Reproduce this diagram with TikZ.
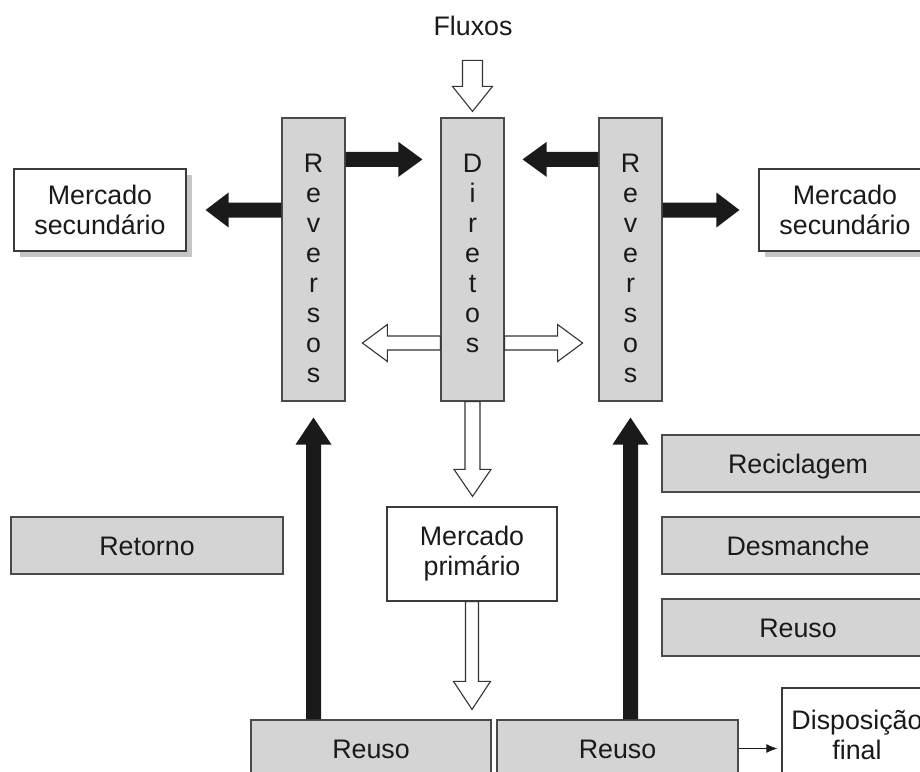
\documentclass[tikz,border=0pt]{standalone}
\usepackage{fontspec}
\setmainfont{Liberation Sans}
\usetikzlibrary{calc,arrows.meta,shadows}
\definecolor{boxgray}{HTML}{D4D4D4}
\definecolor{edge}{HTML}{4A4A4A}
\definecolor{ink}{HTML}{1A1A1A}
\definecolor{shadowgray}{HTML}{C6C6C6}
\newcommand{\blockarr}[6]{%
  \coordinate (ba-a) at (#2);
  \coordinate (ba-b) at (#3);
  \coordinate (ba-h) at ($(ba-b)!#6!(ba-a)$);
  \path[#1] ($(ba-a)!#4!90:(ba-b)$) -- ($(ba-h)!#4!90:(ba-b)$) -- ($(ba-h)!#5!90:(ba-b)$) -- (ba-b)
    -- ($(ba-h)!#5!-90:(ba-b)$) -- ($(ba-h)!#4!-90:(ba-b)$) -- ($(ba-a)!#4!-90:(ba-b)$) -- cycle;
}
\begin{document}
\begin{tikzpicture}[x=1pt,y=-1pt,
  every node/.style={font=\fontsize{26.8}{30}\selectfont, text=ink},
  graybox/.style={draw=edge, line width=1.2pt, fill=boxgray, inner sep=0pt, text height=19.2pt, text depth=0pt},
  whitebox/.style={draw=edge!80!black, line width=1.2pt, fill=white, inner sep=0pt, align=center},
  shadowed/.style={drop shadow={shadow xshift=6pt, shadow yshift=-6pt, fill=shadowgray, opacity=1}},
  column/.style={draw=edge, line width=1.2pt, fill=boxgray, minimum width=63pt, minimum height=283pt, inner sep=0pt},
  letters/.style={anchor=north, inner sep=0pt, align=center},
  blackarr/.style={fill=ink},
  whitearr/.style={draw=edge!70!black, fill=white, line width=1.1pt, line join=miter},
  thinarr/.style={draw=ink, line width=1pt, -{Latex[length=11pt,width=9pt]}}
  ]
\useasboundingbox (0,0) rectangle (920,771);
\clip (0,0) rectangle (920,771);

% title
\node[inner sep=0pt, text height=19.2pt, text depth=0pt] (fluxos) at (473,26) {Fluxos};

% columns
\node[column] (revL) at (313.5,259.5) {};
\node[column] (dir)  at (472.5,259.5) {};
\node[column] (revR) at (630.5,259.5) {};
\node[letters] (revLtxt) at ($(revL.north)+(0,36)$) {R\\e\\v\\e\\r\\s\\o\\s};
\node[letters] (dirtxt)  at ($(dir.north)+(0,36)$) {D\\i\\r\\e\\t\\o\\s};
\node[letters] (revRtxt) at ($(revR.north)+(0,36)$) {R\\e\\v\\e\\r\\s\\o\\s};

% white boxes
\node[whitebox, shadowed, minimum width=172pt, minimum height=82pt] (mercL) at (100,210) {Mercado\\secundário};
\node[whitebox, shadowed, minimum width=172pt, minimum height=82pt] (mercR) at (845,210) {Mercado\\secundário};
\node[whitebox, minimum width=170pt, minimum height=94pt] (mprim) at (472,554) {Mercado\\primário};
\node[whitebox, minimum width=150pt, minimum height=94pt] (disp) at (857,735) {Disposição\\final};

% gray boxes
\node[graybox, minimum width=272pt, minimum height=57pt] (retorno) at (147,545.5) {Retorno};
\node[graybox, minimum width=272pt, minimum height=57pt] (recic) at (798,463.5) {Reciclagem};
\node[graybox, minimum width=272pt, minimum height=57pt] (desm) at (798,545.5) {Desmanche};
\node[graybox, minimum width=272pt, minimum height=57pt] (reusoC) at (798,627.5) {Reuso};
\node[graybox, minimum width=240pt, minimum height=57pt] (reusoL) at (371,748.5) {Reuso};
\node[graybox, minimum width=241pt, minimum height=57pt] (reusoR) at (617.5,748.5) {Reuso};

% black arrows
\blockarr{blackarr}{$(revL.north east)+(0,42)$}{$(dir.north west)+(-18,42)$}{7.5pt}{17.5pt}{24pt}
\blockarr{blackarr}{$(revR.north west)+(0,42)$}{$(dir.north east)+(18,42)$}{7.5pt}{17.5pt}{24pt}
\blockarr{blackarr}{revL.west |- mercL.east}{$(mercL.east)+(19,0)$}{7.5pt}{17.5pt}{23pt}
\blockarr{blackarr}{revR.east |- mercR.west}{$(mercR.west)+(-19,0)$}{7.5pt}{17.5pt}{23pt}
\blockarr{blackarr}{reusoL.north -| revL.south}{$(revL.south)+(0,16)$}{7.5pt}{18pt}{27pt}
\blockarr{blackarr}{reusoR.north -| revR.south}{$(revR.south)+(0,16)$}{7.5pt}{18pt}{27pt}

% white arrows
\blockarr{whitearr}{$(dir.north)+(0,-57)$}{$(dir.north)+(0,-6)$}{10pt}{20pt}{25pt}
\blockarr{whitearr}{$(dir.west)+(0,83.5)$}{$(dir.west)+(-78,83.5)$}{7pt}{18.5pt}{25pt}
\blockarr{whitearr}{$(dir.east)+(0,83.5)$}{$(dir.east)+(78,83.5)$}{7pt}{18.5pt}{25pt}
\blockarr{whitearr}{dir.south}{$(dir.south |- mprim.north)+(0,-10)$}{7.5pt}{18.5pt}{27pt}
\blockarr{whitearr}{mprim.south}{$(mprim.south |- reusoL.north)+(0,-10)$}{6.5pt}{18.5pt}{28pt}

% thin arrow
\draw[thinarr] (reusoR.east) -- ($(disp.west |- reusoR.east)+(-4,0)$);
\end{tikzpicture}
\end{document}
